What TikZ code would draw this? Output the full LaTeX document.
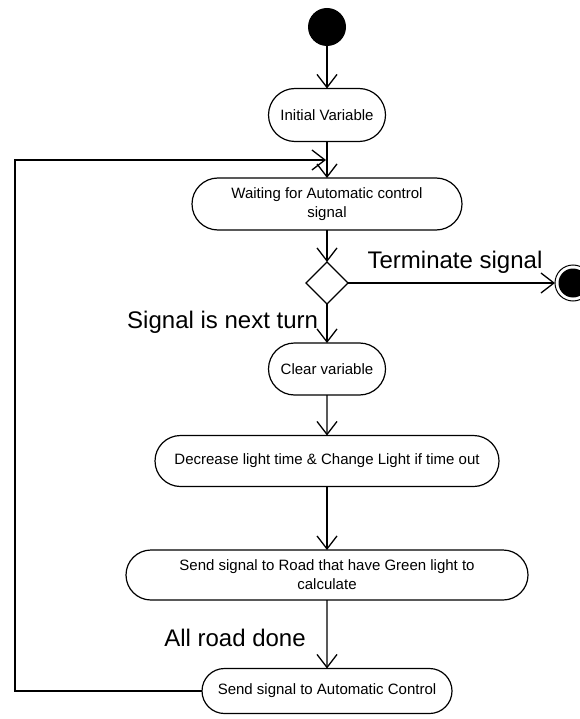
\documentclass[tikz,border=0pt]{standalone}
\usepackage{fontspec}
\setmainfont{Liberation Sans}
\usetikzlibrary{shapes.misc,shapes.geometric,arrows.meta}
\begin{document}
\begin{tikzpicture}[x=1pt,y=-1pt,
  every node/.style={inner sep=0pt,outer sep=0pt},
  action/.style={draw,rounded rectangle,line width=1.2pt,font=\fontsize{15}{19}\selectfont,align=center},
  flow/.style={line width=1.3pt,-{Straight Barb[length=13pt,width=20pt,line width=1.3pt]}},
  guard/.style={font=\fontsize{24}{28}\selectfont}]
  \useasboundingbox (0,0) rectangle (579,719);

  % initial and final states
  \node (start) [circle,fill=black,minimum size=38pt] at (327,27) {};
  \node (stop) [circle,draw,line width=1pt,minimum size=36pt] at (573,283) {};
  \fill (stop.center) circle (14.5pt);

  % activities
  \node (init) [action,minimum width=117pt,minimum height=53pt] at (327,115) {Initial Variable};
  \node (wait) [action,minimum width=270pt,minimum height=52pt] at (327,204) {Waiting for Automatic control\\signal};
  \node (dec) [diamond,draw,line width=1.2pt,minimum width=42pt,minimum height=42pt] at (327,283) {};
  \node (clear) [action,minimum width=117pt,minimum height=52pt] at (327,369) {Clear variable};
  \node (light) [action,minimum width=344pt,minimum height=51pt] at (327,461) {Decrease light time \& Change Light if time out};
  \node (road) [action,minimum width=402pt,minimum height=50pt] at (327,575) {Send signal to Road that have Green light to\\calculate};
  \node (send) [action,minimum width=250pt,minimum height=45pt] at (327,691) {Send signal to Automatic Control};

  % guard labels
  \node (lterm) [guard] at (455,262) {Terminate signal};
  \node (lnext) [guard,anchor=east] at (318,322) {Signal is next turn};
  \node (ldone) [guard] at (235,638) {All road done};

  % control flow
  \draw[flow] (start) -- (init);
  \draw[flow] (init) -- (wait);
  \draw[flow] (wait) -- (dec.north);
  \draw[flow] (dec.east) -- (stop);
  \draw[flow] (dec.south) -- (clear);
  \draw[flow] (clear) -- (light);
  \draw[flow] (light) -- (road);
  \draw[flow] (road) -- (send);

  % loop back to waiting
  \coordinate (lb) at (15,691);
  \coordinate (lt) at (15,160);
  \coordinate (lin) at (326,160);
  \draw[flow] (send.west) -- (lb) -- (lt) -- (lin);
\end{tikzpicture}
\end{document}
